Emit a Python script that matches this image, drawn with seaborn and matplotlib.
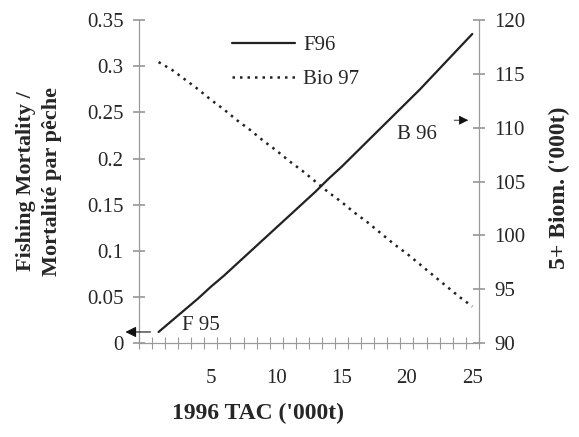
import matplotlib
matplotlib.use("Agg")
import matplotlib.pyplot as plt
import numpy as np
import pandas as pd
import seaborn as sns

# 1996 TAC ('000t) and the two projected series
tac = list(range(1, 26))
f96 = [0.012, 0.024, 0.036, 0.048, 0.061, 0.073, 0.086, 0.099, 0.112, 0.125,
       0.138, 0.151, 0.164, 0.178, 0.191, 0.205, 0.219, 0.233, 0.247, 0.261,
       0.275, 0.290, 0.305, 0.320, 0.335]
bio97 = [116.1, 115.4, 114.5, 113.6, 112.6, 111.7, 110.7, 109.8, 108.8, 107.9,
         106.9, 106.0, 105.0, 104.0, 103.1, 102.1, 101.2, 100.2, 99.2, 98.3,
         97.3, 96.3, 95.3, 94.3, 93.4]
xtick_labels = [5, 10, 15, 20, 25]
left_ticks = [0, 0.05, 0.1, 0.15, 0.2, 0.25, 0.3, 0.35]
right_ticks = [90, 95, 100, 105, 110, 115, 120]

df = pd.DataFrame({"TAC": tac, "F96": f96, "Bio 97": bio97})

sns.set_theme(style="ticks")
plt.rcParams['font.family'] = ['Liberation Serif', 'DejaVu Serif']
axcol = '#9a9a9a'

fig = plt.figure(figsize=(5.79, 4.37), dpi=100)
ax = fig.add_axes([0.240, 0.215, 0.587, 0.739])
ax2 = ax.twinx()

sns.lineplot(data=df, x="TAC", y="F96", ax=ax, color='#222222', lw=1.6, label="F96", legend=False)
sns.lineplot(data=df, x="TAC", y="Bio 97", ax=ax2, color='#222222', lw=1.8,
             linestyle=(0, (1, 2)), label="Bio 97", legend=False)

ax.set_xlim(-0.5, 25.5)
ax.set_ylim(0, 0.35)
ax2.set_ylim(90, 120)

ax.set_xticks(xtick_labels)
ax.set_xticklabels([str(v) for v in xtick_labels])
ax.tick_params(axis='x', length=0, labelsize=15, pad=19)
ax.set_xticks(np.arange(-0.5, 25.6, 1), minor=True)
ax.tick_params(axis='x', which='minor', direction='inout', length=8, color=axcol, width=0.8)

ax.set_yticks(left_ticks)
ax.set_yticklabels(['0', '0.05', '0.1', '0.15', '0.2', '0.25', '0.3', '0.35'])
ax.tick_params(axis='y', direction='inout', length=8, color=axcol, labelsize=15, pad=7)
ax2.set_yticks(right_ticks)
ax2.tick_params(axis='y', direction='inout', length=8, color=axcol, labelsize=15, pad=7)

for a in (ax, ax2):
    a.spines['top'].set_visible(False)
    for s in ('left', 'right', 'bottom'):
        a.spines[s].set_color(axcol)
        a.spines[s].set_linewidth(0.9)
ax.spines['right'].set_visible(False)
ax2.spines['left'].set_visible(False)
ax2.spines['bottom'].set_visible(False)

ax.set_xlabel("1996 TAC ('000t)", fontsize=17, fontweight='bold')
ax.xaxis.set_label_coords(0.35, -0.185)
ax.set_ylabel("Fishing Mortality /\nMortalité par pêche", fontsize=16,
              fontweight='bold', linespacing=1.45)
ax.yaxis.set_label_coords(-0.225, 0.5)
ax2.set_ylabel("5+ Biom. ('000t)", fontsize=17, fontweight='bold')
ax2.yaxis.set_label_coords(1.205, 0.48)

# F 95 marker on the left axis
ax.annotate("", xy=(-0.048, 0.012), xycoords=('axes fraction', 'data'),
            xytext=(0.6, 0.012), textcoords='data',
            arrowprops=dict(arrowstyle='-|>', color='#111111', lw=0.8,
                            mutation_scale=16), annotation_clip=False)
ax.text(4.2, 0.019, "F 95", fontsize=15, ha='center', va='center')

# B 96 marker near the right axis
ax2.annotate("", xy=(24.9, 110.7), xytext=(23.4, 110.7),
             arrowprops=dict(arrowstyle='-|>', color='#111111', lw=0.6,
                             mutation_scale=14), annotation_clip=False)
ax2.text(20.8, 109.4, "B 96", fontsize=15, ha='center', va='center')

h1, l1 = ax.get_legend_handles_labels()
h2, l2 = ax2.get_legend_handles_labels()
ax2.legend(h1 + h2, l1 + l2, loc='upper left', bbox_to_anchor=(0.22, 1.01),
           frameon=False, fontsize=15, handlelength=3.0, handletextpad=0.4,
           labelspacing=0.7)

fig.savefig("out.png", dpi=100)
